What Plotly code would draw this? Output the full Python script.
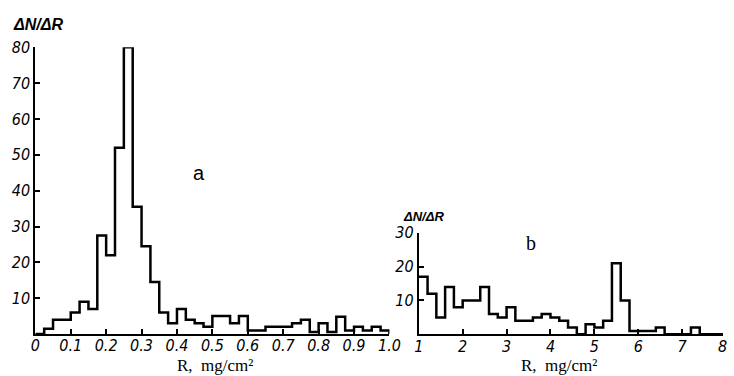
import plotly.graph_objects as go

# ---- data: panel a (bin width 0.025 mg/cm^2, left edges from 0) ----
a_edges = [round(i * 0.025, 3) for i in range(41)]
a_values = [0, 1.5, 4, 4, 6, 9, 7, 27.5, 22, 52,
            80, 35.5, 24.5, 14.5, 6, 3, 7, 4, 3, 2,
            5, 5, 3, 5, 1, 1, 2, 2, 2, 3,
            4, 0.6, 3, 0.6, 4.8, 1, 2, 1, 2, 1]
a_tickvals = [0, 0.1, 0.2, 0.3, 0.4, 0.5, 0.6, 0.7, 0.8, 0.9, 1.0]
a_ticktext = ["0", "0.1", "0.2", "0.3", "0.4", "0.5", "0.6", "0.7", "0.8", "0.9", "1.0"]
a_ytickvals = [10, 20, 30, 40, 50, 60, 70, 80]

# ---- data: panel b (bin width 0.2 mg/cm^2, from 1.0) ----
b_edges = [round(1 + i * 0.2, 2) for i in range(36)]
b_values = [17, 12, 5, 14, 8, 10, 10, 14, 6, 5,
            8, 4, 4, 5, 6, 5, 4, 2, 0, 3,
            2, 4, 21, 10, 1, 1, 1, 2, 0, 0,
            0, 2, 0, 0, 0]
b_tickvals = [1, 2, 3, 4, 5, 6, 7]
b_ytickvals = [10, 20, 30]

def step_xy(edges, values):
    xs = list(edges)
    ys = list(values) + [0]
    return xs, ys

TICKFONT = dict(family="DejaVu Sans Condensed, DejaVu Sans", size=16, color="black",
                style="italic")

fig = go.Figure()
ax, ay = step_xy(a_edges, a_values)
fig.add_trace(go.Scatter(x=ax, y=ay, mode="lines", line=dict(shape="hv", color="black", width=2.5),
                         xaxis="x", yaxis="y", showlegend=False, hoverinfo="skip"))
bx, by = step_xy(b_edges, b_values)
fig.add_trace(go.Scatter(x=bx, y=by, mode="lines", line=dict(shape="hv", color="black", width=2.5),
                         xaxis="x2", yaxis="y2", showlegend=False, hoverinfo="skip"))

W, H = 734, 376
common = dict(showgrid=False, zeroline=False, showline=True, linecolor="black", linewidth=2,
              ticks="inside", ticklen=5, tickwidth=1.5, tickcolor="black", tickfont=TICKFONT)

fig.update_layout(
    width=W, height=H, margin=dict(l=0, r=0, t=0, b=0),
    paper_bgcolor="white", plot_bgcolor="white",
    xaxis=dict(domain=[31 / W, 393 / W], range=[0, 1.0], anchor="y", ticklabelstandoff=-4,
               tickmode="array", tickvals=a_tickvals, ticktext=a_ticktext, **common),
    yaxis=dict(domain=[(H - 333) / H, (H - 39.3) / H], range=[0, 80], anchor="x",
               tickmode="array", tickvals=a_ytickvals, **common),
    xaxis2=dict(domain=[423 / W, 1.0], range=[1, 7.93], anchor="y2", ticklabelstandoff=-4,
                tickmode="array", tickvals=b_tickvals, **common),
    yaxis2=dict(domain=[(H - 333.3) / H, (H - 229.3) / H], range=[0, 30], anchor="x2",
                tickmode="array", tickvals=b_ytickvals, **common),
)

serif = dict(family="Liberation Serif, Times New Roman, serif", size=17, color="black")
ylab = dict(family="Liberation Sans, Arial, sans-serif", size=16, color="black",
            style="italic", weight="bold")
annos = [
    dict(text="R,  mg/cm²", x=215 / W, y=(H - 365) / H, font=serif),
    dict(text="R,  mg/cm²", x=566 / W, y=(H - 365) / H, font=serif),
    dict(text="ΔN/ΔR", x=34 / W, y=(H - 16) / H, font=ylab),
    dict(text="ΔN/ΔR", x=428 / W, y=(H - 213) / H, font=dict(ylab, size=13)),
    dict(text="a", x=198 / W, y=(H - 168) / H,
         font=dict(family="Liberation Sans, Arial, sans-serif", size=20, color="black")),
    dict(text="b", x=538 / W, y=(H - 240) / H, font=dict(serif, size=20)),
]
for a in annos:
    fig.add_annotation(xref="paper", yref="paper", showarrow=False,
                       xanchor="center", yanchor="middle", borderpad=0, **a)
fig.add_annotation(xref="paper", yref="paper", x=1.0, y=(H - 346) / H, xanchor="left",
                   yanchor="middle", xshift=-7, showarrow=False, text="8", font=TICKFONT)

fig.write_html("out.html")
